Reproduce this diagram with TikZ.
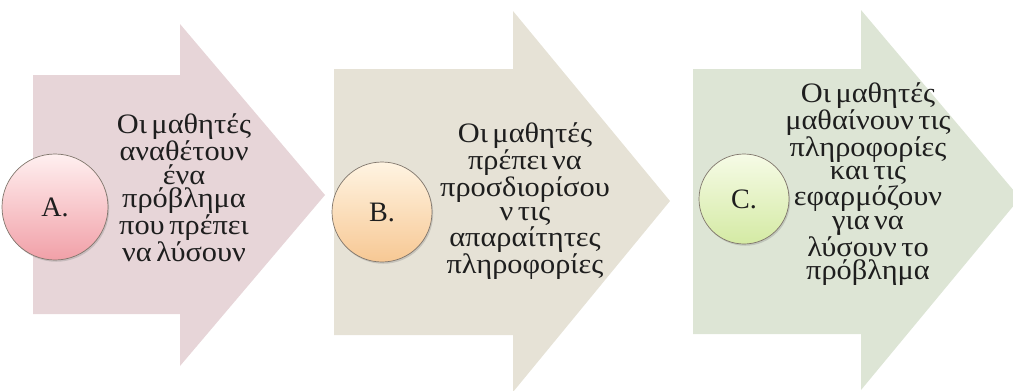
\documentclass[tikz,border=0pt]{standalone}
\usepackage{fontspec}
\setmainfont{Liberation Serif}
\newfontfamily\widegreek{Liberation Serif}[FakeStretch=1.08, WordSpace=0.6]
\usepackage{xcolor}
\usetikzlibrary{shadows}

\definecolor{pinkarrow}{RGB}{231,213,216}
\definecolor{beigearrow}{RGB}{230,226,214}
\definecolor{greenarrow}{RGB}{221,229,213}
\definecolor{badgeline}{RGB}{128,118,108}
\definecolor{steptextcol}{RGB}{30,30,30}

\begin{document}
\begin{tikzpicture}[
  x=0.03cm, y=-0.03cm,
  badge/.style={circle, draw=badgeline, line width=0.6pt, text=steptextcol,
    font=\fontsize{24}{24}\selectfont,
    drop shadow={opacity=0.3, shadow xshift=1pt, shadow yshift=-1.5pt}},
  steptext/.style={align=center, inner sep=0pt, text=steptextcol,
    font=\widegreek\fontsize{24}{20}\selectfont}
]
  \useasboundingbox (0,0) rectangle (1013,390);
  \clip (0,0) rectangle (1013,390);

  \fill[pinkarrow] (33,75) -- (180,75) -- (180,24) -- (325,195) -- (180,366) -- (180,314) -- (33,314) -- cycle;
  \fill[beigearrow] (334,69) -- (513,69) -- (513,11) -- (670,201) -- (513,392) -- (513,335) -- (334,335) -- cycle;
  \fill[greenarrow] (693,69) -- (861,69) -- (861,10) -- (1020,198) -- (861,390) -- (861,334) -- (693,334) -- cycle;

  \node[steptext] (assign) at (184,188) {Οι μαθητές\\αναθέτουν\\ένα\\πρόβλημα\\που πρέπει\\να λύσουν};
  \node[steptext] (identify) at (525,201) {Οι μαθητές\\πρέπει να\\προσδιορίσου\\ν τις\\απαραίτητες\\πληροφορίες};
  \node[steptext] (apply) at (868,184) {Οι μαθητές\\μαθαίνουν τις\\πληροφορίες\\και τις\\εφαρμόζουν\\για να\\λύσουν το\\πρόβλημα};

  \node[badge, minimum size=3.18cm, top color=red!6, bottom color={rgb,255:red,241;green,160;blue,168}] (stepA) at (55,207) {A.};
  \node[badge, minimum size=3.0cm, top color={rgb,255:red,255;green,244;blue,226}, bottom color={rgb,255:red,247;green,200;blue,148}] (stepB) at (382,212) {B.};
  \node[badge, minimum size=2.7cm, top color={rgb,255:red,246;green,251;blue,230}, bottom color={rgb,255:red,212;green,234;blue,164}] (stepC) at (744,199) {C.};
\end{tikzpicture}
\end{document}
